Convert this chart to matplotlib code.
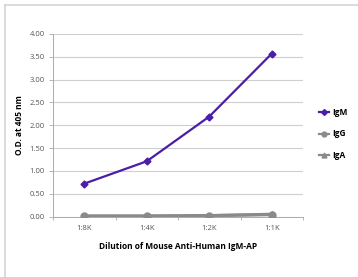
import numpy as np
import matplotlib.pyplot as plt
from matplotlib.lines import Line2D

# data
dilutions = ['1:8K', '1:4K', '1:2K', '1:1K']
igm = [0.72, 1.21, 2.19, 3.57]
igg = [0.01, 0.01, 0.02, 0.04]
iga = [0.01, 0.01, 0.02, 0.05]

plt.rcParams['font.family'] = ['Open Sans', 'DejaVu Sans']

fig = plt.figure(figsize=(3.58, 2.77), dpi=100)
ax = fig.add_axes([53/358, 1-216.5/277, 250/358, 182.5/277])

x = np.arange(len(dilutions))
purple = '#4a1ea5'
grey = '#8a8a8a'
ax.plot(x, iga, color=grey, lw=2.2, marker='^', ms=5, zorder=3)
ax.plot(x, igg, color=grey, lw=2.2, marker='o', ms=5, zorder=3)
ax.plot(x, igm, color=purple, lw=1.6, marker='D', ms=3.5, zorder=4)

ax.set_xlim(-0.5, 3.5)
ax.set_ylim(0, 4)
ax.set_yticks(np.arange(0, 4.01, 0.5))
ax.set_yticklabels(['%.2f' % v for v in np.arange(0, 4.01, 0.5)])
ax.set_xticks(x)
ax.set_xticklabels(dilutions)
ax.set_xticks(np.arange(-0.5, 3.6, 1), minor=True)
ax.tick_params(axis='x', which='major', length=0, labelsize=5.5, pad=6, colors='#555555')
ax.tick_params(axis='x', which='minor', length=2.5, color='#aaaaaa', width=0.6)
ax.tick_params(axis='y', length=3, color='#aaaaaa', width=0.6, labelsize=5.5, pad=3, labelcolor='#555555')
ax.grid(axis='y', color='#cfcfcf', lw=0.8)
ax.set_axisbelow(True)
for s in ['top', 'right']:
    ax.spines[s].set_visible(False)
ax.spines['left'].set_color('#aaaaaa')
ax.spines['bottom'].set_color('#aaaaaa')
ax.spines['left'].set_linewidth(0.7)
ax.spines['bottom'].set_linewidth(0.7)

ax.set_ylabel('O.D. at 405 nm', fontsize=6, fontweight='bold', labelpad=4)
ax.set_xlabel('Dilution of Mouse Anti-Human IgM-AP', fontsize=6, fontweight='bold', labelpad=7)

handles = [Line2D([], [], color=purple, lw=1.6, marker='D', ms=3),
           Line2D([], [], color=grey, lw=1.6, marker='o', ms=3.5),
           Line2D([], [], color=grey, lw=1.6, marker='^', ms=3.5)]
fig.legend(handles, ['IgM', 'IgG', 'IgA'], loc='center left', bbox_to_anchor=(311/358, 1-134/277),
           frameon=False, handlelength=1.2, handletextpad=0.5, labelspacing=1.5,
           prop={'weight': 'bold', 'size': 6})

# light frame on left and top
fig.add_artist(Line2D([4.5/358, 4.5/358], [0, 1-4.5/277], color='#d5d5d5', lw=1.2, transform=fig.transFigure))
fig.add_artist(Line2D([4.5/358, 1], [1-4.5/277, 1-4.5/277], color='#d5d5d5', lw=1.2, transform=fig.transFigure))

fig.savefig('out.png', dpi=100)
